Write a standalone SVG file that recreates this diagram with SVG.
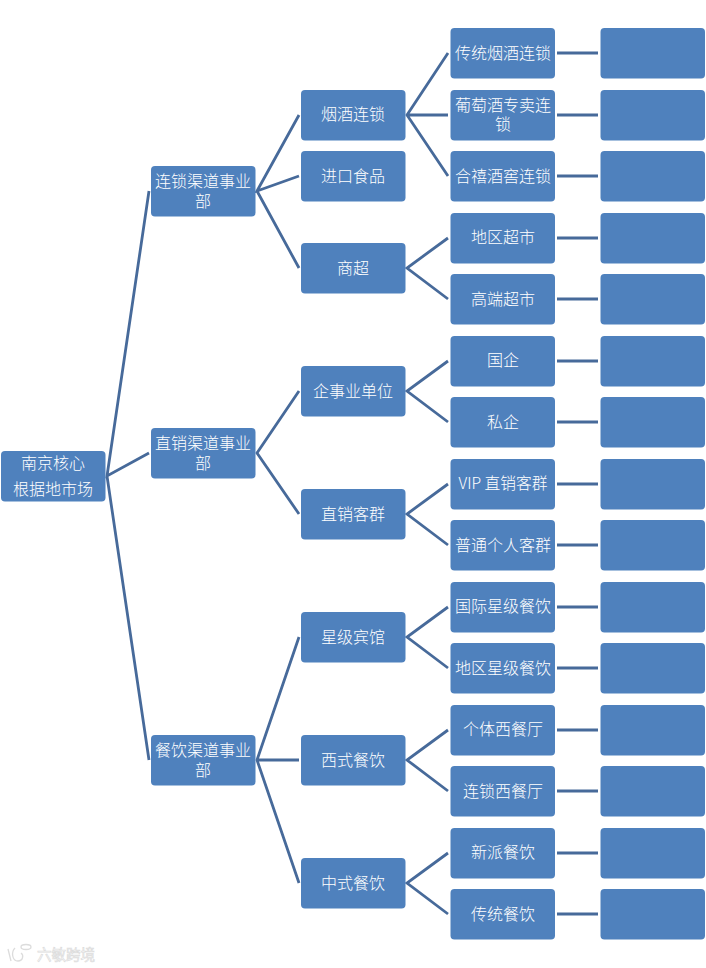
<svg xmlns="http://www.w3.org/2000/svg" width="706" height="968" viewBox="0 0 706 968">
<style>
.b{fill:#4f81bd;stroke:none}
.t{fill:#fff;font-family:"Noto Sans CJK SC","Noto Sans",sans-serif;font-size:16px;font-weight:300;text-anchor:middle}
#connectors path{fill:none;stroke:#476a9a;stroke-width:2.8}
.w{fill:#fff;stroke:#dcdcdc;stroke-width:.7;font-family:"Noto Sans CJK SC",sans-serif;font-size:14.500px}
#logo path,#logo ellipse{fill:none;stroke:#dcdcdc;stroke-width:1.300}
</style>
<rect width="706" height="968" fill="#fff"/>
<g id="connectors">
<path d="M149 191L107 476L149 453M107 476L149 760"/>
<path d="M299 115L257 191L299 176M257 191L299 268"/>
<path d="M299 391L257 453L299 514"/>
<path d="M299 637L257 760L299 883M257 760H299"/>
<path d="M448 53L407 115L448 176M407 115H448"/>
<path d="M448 238L407 268L448 299"/>
<path d="M448 361L407 391L448 422"/>
<path d="M448 484L407 514L448 545"/>
<path d="M448 607L407 637L448 668"/>
<path d="M448 730L407 760L448 791"/>
<path d="M448 853L407 883L448 914"/>
<path d="M557 53H598M557 115H598M557 176H598M557 238H598M557 299H598M557 361H598M557 422H598M557 484H598M557 545H598M557 607H598M557 668H598M557 730H598M557 791H598M557 853H598M557 914H598"/>
</g>
<g id="n-root"><rect class="b" x="1" y="451" width="104.500" height="50.500" rx="4"/><text class="t" x="53" y="469">南京核心</text><text class="t" x="53" y="495">根据地市场</text></g>
<g id="n-l2-1"><rect class="b" x="151" y="166" width="104.500" height="50.500" rx="4"/><text class="t" x="203" y="187">连锁渠道事业</text><text class="t" x="203" y="207">部</text></g>
<g id="n-l2-2"><rect class="b" x="151" y="428" width="104.500" height="50.500" rx="4"/><text class="t" x="203" y="449">直销渠道事业</text><text class="t" x="203" y="469">部</text></g>
<g id="n-l2-3"><rect class="b" x="151" y="735" width="104.500" height="50.500" rx="4"/><text class="t" x="203" y="756">餐饮渠道事业</text><text class="t" x="203" y="776">部</text></g>
<g id="n-l3-1"><rect class="b" x="301" y="90" width="104.500" height="50.500" rx="4"/><text class="t" x="353" y="120">烟酒连锁</text></g>
<g id="n-l3-2"><rect class="b" x="301" y="151" width="104.500" height="50.500" rx="4"/><text class="t" x="353" y="182">进口食品</text></g>
<g id="n-l3-3"><rect class="b" x="301" y="243" width="104.500" height="50.500" rx="4"/><text class="t" x="353" y="274">商超</text></g>
<g id="n-l3-4"><rect class="b" x="301" y="366" width="104.500" height="50.500" rx="4"/><text class="t" x="353" y="397">企事业单位</text></g>
<g id="n-l3-5"><rect class="b" x="301" y="489" width="104.500" height="50.500" rx="4"/><text class="t" x="353" y="520">直销客群</text></g>
<g id="n-l3-6"><rect class="b" x="301" y="612" width="104.500" height="50.500" rx="4"/><text class="t" x="353" y="643">星级宾馆</text></g>
<g id="n-l3-7"><rect class="b" x="301" y="735" width="104.500" height="50.500" rx="4"/><text class="t" x="353" y="766">西式餐饮</text></g>
<g id="n-l3-8"><rect class="b" x="301" y="858" width="104.500" height="50.500" rx="4"/><text class="t" x="353" y="889">中式餐饮</text></g>
<g id="n-l4-1"><rect class="b" x="450.500" y="28" width="104.500" height="50.500" rx="4"/><text class="t" x="503" y="59">传统烟酒连锁</text></g>
<g id="n-l4-2"><rect class="b" x="450.500" y="90" width="104.500" height="50.500" rx="4"/><text class="t" x="503" y="111">葡萄酒专卖连</text><text class="t" x="503" y="130">锁</text></g>
<g id="n-l4-3"><rect class="b" x="450.500" y="151" width="104.500" height="50.500" rx="4"/><text class="t" x="503" y="182">合禧酒窖连锁</text></g>
<g id="n-l4-4"><rect class="b" x="450.500" y="213" width="104.500" height="50.500" rx="4"/><text class="t" x="503" y="243">地区超市</text></g>
<g id="n-l4-5"><rect class="b" x="450.500" y="274" width="104.500" height="50.500" rx="4"/><text class="t" x="503" y="305">高端超市</text></g>
<g id="n-l4-6"><rect class="b" x="450.500" y="336" width="104.500" height="50.500" rx="4"/><text class="t" x="503" y="366">国企</text></g>
<g id="n-l4-7"><rect class="b" x="450.500" y="397" width="104.500" height="50.500" rx="4"/><text class="t" x="503" y="428">私企</text></g>
<g id="n-l4-8"><rect class="b" x="450.500" y="459" width="104.500" height="50.500" rx="4"/><text class="t" x="503" y="489" textLength="89" lengthAdjust="spacingAndGlyphs">VIP 直销客群</text></g>
<g id="n-l4-9"><rect class="b" x="450.500" y="520" width="104.500" height="50.500" rx="4"/><text class="t" x="503" y="551">普通个人客群</text></g>
<g id="n-l4-10"><rect class="b" x="450.500" y="582" width="104.500" height="50.500" rx="4"/><text class="t" x="503" y="612">国际星级餐饮</text></g>
<g id="n-l4-11"><rect class="b" x="450.500" y="643" width="104.500" height="50.500" rx="4"/><text class="t" x="503" y="674">地区星级餐饮</text></g>
<g id="n-l4-12"><rect class="b" x="450.500" y="705" width="104.500" height="50.500" rx="4"/><text class="t" x="503" y="735">个体西餐厅</text></g>
<g id="n-l4-13"><rect class="b" x="450.500" y="766" width="104.500" height="50.500" rx="4"/><text class="t" x="503" y="797">连锁西餐厅</text></g>
<g id="n-l4-14"><rect class="b" x="450.500" y="828" width="104.500" height="50.500" rx="4"/><text class="t" x="503" y="858">新派餐饮</text></g>
<g id="n-l4-15"><rect class="b" x="450.500" y="889" width="104.500" height="50.500" rx="4"/><text class="t" x="503" y="920">传统餐饮</text></g>
<g id="n-l5-1"><rect class="b" x="600.500" y="28" width="104.500" height="50.500" rx="4"/></g>
<g id="n-l5-2"><rect class="b" x="600.500" y="90" width="104.500" height="50.500" rx="4"/></g>
<g id="n-l5-3"><rect class="b" x="600.500" y="151" width="104.500" height="50.500" rx="4"/></g>
<g id="n-l5-4"><rect class="b" x="600.500" y="213" width="104.500" height="50.500" rx="4"/></g>
<g id="n-l5-5"><rect class="b" x="600.500" y="274" width="104.500" height="50.500" rx="4"/></g>
<g id="n-l5-6"><rect class="b" x="600.500" y="336" width="104.500" height="50.500" rx="4"/></g>
<g id="n-l5-7"><rect class="b" x="600.500" y="397" width="104.500" height="50.500" rx="4"/></g>
<g id="n-l5-8"><rect class="b" x="600.500" y="459" width="104.500" height="50.500" rx="4"/></g>
<g id="n-l5-9"><rect class="b" x="600.500" y="520" width="104.500" height="50.500" rx="4"/></g>
<g id="n-l5-10"><rect class="b" x="600.500" y="582" width="104.500" height="50.500" rx="4"/></g>
<g id="n-l5-11"><rect class="b" x="600.500" y="643" width="104.500" height="50.500" rx="4"/></g>
<g id="n-l5-12"><rect class="b" x="600.500" y="705" width="104.500" height="50.500" rx="4"/></g>
<g id="n-l5-13"><rect class="b" x="600.500" y="766" width="104.500" height="50.500" rx="4"/></g>
<g id="n-l5-14"><rect class="b" x="600.500" y="828" width="104.500" height="50.500" rx="4"/></g>
<g id="n-l5-15"><rect class="b" x="600.500" y="889" width="104.500" height="50.500" rx="4"/></g>
<g id="logo"><path d="M8 949L11 961M15 948C11 952 12 961 18 961C23 961 24 955 21 953"/><ellipse cx="26" cy="947" rx="5" ry="2.500"/></g>
<text class="w" x="37" y="960">六敏跨境</text>
</svg>
